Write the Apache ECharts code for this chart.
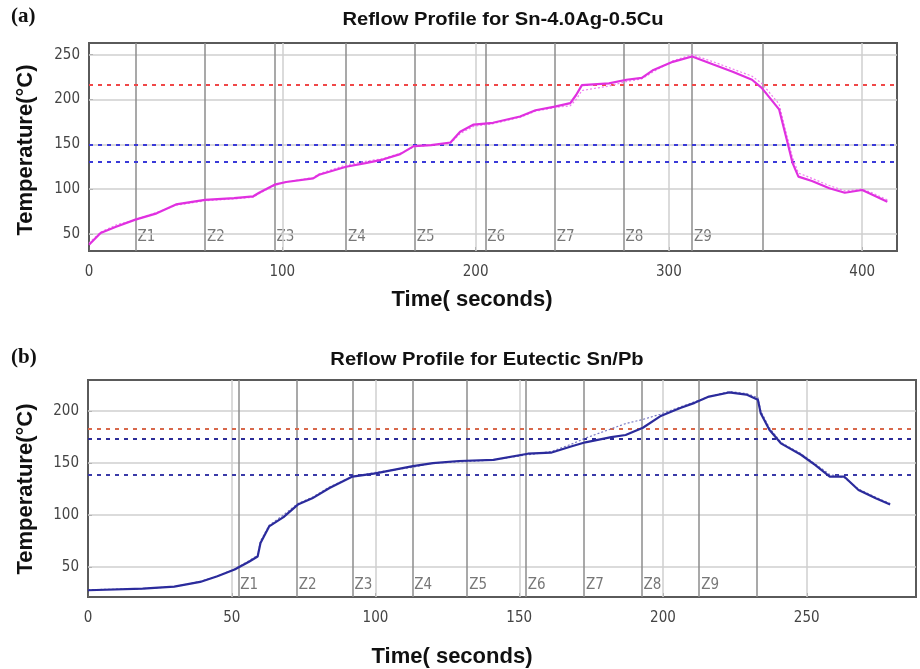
<!DOCTYPE html>
<html><head><meta charset="utf-8">
<script src="https://cdn.jsdelivr.net/npm/echarts@6/dist/echarts.min.js"></script>
<style>html,body{margin:0;padding:0;background:#fff}#c{width:920px;height:669px}</style>
</head><body><div id="c"></div>
<script>
// ---------- Panel (a): Sn-4.0Ag-0.5Cu ----------
const timeA  = [0,6,14,24,35,45,60,75,85,88,96,102,116,119,133,143,152,161,168,177,187,192,199,209,223,231,241,249,252,255,269,278,286,292,302,312,323,333,343,348,357,361,364,367,374,383,391,400,405,413];
const tempA1 = [38,51,58,66,73,83,88,90,92,96,105,108,112,116,125,129,133,139,148,149,152,164,172,174,181,188,192,196,205,216,218,222,224,233,242,248,239,231,222,213,189,155,129,114,109,101,96,99,94,86];
const tempA2 = [40,52,60,66,74,82,87,89,91,95,104,108,113,117,127,131,134,140,147,149,151,162,170,173,180,187,191,193,200,210,215,220,223,231,243,250,242,234,226,218,195,160,135,118,112,104,98,100,96,88];
const zonesA = [24,60,96,133,168.5,205,241,276.5,312,348.5];
const limitsA = [216,150,130];
const yTicksA = [50,100,150,200,250];
const xGridA = [100,200,300,400];

// ---------- Panel (b): Eutectic Sn/Pb ----------
const timeB  = [0,19,30,39,45,51,56,59,60,63,68,73,78,84,92,100,113,120,129,141,153,161,168,173,182,187,193,199,206,211,216,223,229,233,234,237,241,248,253,258,263,268,274,279];
const tempB1 = [27.5,29,31,35.5,41,47.5,55,60,73,89,98,110,116,126,137,140,147,150,152,153,159,160,166,170,175,177,184,195,203,208,214,218,216,211,198,182,169,158,148,137,137,124,116,110];
const tempB2 = [28,29,31,36,41,48,56,61,75,90,100,111,117,127,137,141,146,150,151,153,158,161,168,174,183,188,192,197,204,209,214,219,217,213,200,184,170,159,149,139,136,125,117,111];
const zonesB = [52.3,72.6,92,112.8,131.9,152.3,172.5,192.5,212.6,232.7];
const limitsB = [183,173,139];
const yTicksB = [50,100,150,200];
const xGridB = [50,100,150,200,250];

const zoneNames = ['Z1','Z2','Z3','Z4','Z5','Z6','Z7','Z8','Z9'];

const tickFont = "'DejaVu Sans Condensed','Liberation Sans Narrow',sans-serif";
const boldFont = "'Liberation Sans',Arial,sans-serif";

function pairs(t, v){ return t.map((x,i)=>[x, v[i]]); }

function hLines(vals, color, type, width){
  return vals.map(v=>({yAxis:v, lineStyle:{color:color, type:type, width:width}}));
}
function vLines(vals, color, width){
  return vals.map(v=>({xAxis:v, lineStyle:{color:color, type:'solid', width:width}}));
}

function panelSeries(idx, time, t1, t2, zones, limits, limitColors, yTicks, xGrid, zoneY, solidColor, dotColor){
  const base = {type:'line', xAxisIndex:idx, yAxisIndex:idx, data:[], silent:true, symbol:'none'};
  return [
    Object.assign({}, base, {z:1, markLine:{silent:true, symbol:'none', label:{show:false}, animation:false,
      data: hLines(yTicks,'#cfcfcf','solid',1.5).concat(vLines(xGrid,'#cfcfcf',1.5))}}),
    Object.assign({}, base, {z:2, markLine:{silent:true, symbol:'none', label:{show:false}, animation:false,
      data: vLines(zones,'#8c8c8c',1.5)}}),
    Object.assign({}, base, {z:3, markLine:{silent:true, symbol:'none', label:{show:false}, animation:false,
      data: limits.map((v,i)=>({yAxis:v, lineStyle:{color:limitColors[i], type:[4,5], width:2}}))}}),
    {type:'scatter', xAxisIndex:idx, yAxisIndex:idx, z:4, silent:true, symbolSize:0,
      data: zoneNames.map((n,i)=>({value:[zones[i], zoneY], name:n})),
      label:{show:true, position:'right', distance:1, formatter:'{b}', color:'#555', fontFamily:tickFont, fontSize:15,
        backgroundColor:'#fff', padding:[0,2,0,1]}},
    {type:'line', xAxisIndex:idx, yAxisIndex:idx, z:5, data:pairs(time,t2), symbol:'none', silent:true,
      lineStyle:{color:dotColor, width:1.2, type:[2,2]}},
    {type:'line', xAxisIndex:idx, yAxisIndex:idx, z:6, data:pairs(time,t1), symbol:'none', silent:true,
      lineStyle:{color:solidColor, width:2.2}}
  ];
}

function xAx(idx, max, interval){
  return {type:'value', gridIndex:idx, min:0, max:max, interval:interval,
    axisLine:{show:false}, splitLine:{show:false},
    axisTick:{show:true, inside:true, length:4, lineStyle:{color:'#666'}},
    axisLabel:{color:'#444', fontFamily:tickFont, fontSize:15, margin:14,
      showMaxLabel:false}};
}
function yAx(idx, min, max, ticks){
  return {type:'value', gridIndex:idx, min:min, max:max,
    axisLine:{show:false}, splitLine:{show:false},
    axisTick:{show:true, inside:true, length:4, customValues:ticks, lineStyle:{color:'#666'}},
    axisLabel:{color:'#444', fontFamily:tickFont, fontSize:15, margin:9, customValues:ticks}};
}

const chart = echarts.init(document.getElementById('c'), null, {renderer:'canvas'});
chart.setOption({
  animation:false,
  backgroundColor:'#fff',
  grid:[
    {left:89, top:43, width:808, height:208, show:true, borderColor:'#5a5a5a', borderWidth:2, backgroundColor:'#fff'},
    {left:88, top:380, width:828, height:217, show:true, borderColor:'#5a5a5a', borderWidth:2, backgroundColor:'#fff'}
  ],
  xAxis:[xAx(0,418,100), xAx(1,288,50)],
  yAxis:[yAx(0,31,263,yTicksA), yAx(1,21,230,yTicksB)],
  graphic:[
    {type:'text', left:11, top:6, style:{text:'(a)', font:"bold 21px 'Liberation Serif',serif", fill:'#111'}},
    {type:'text', x:503, y:20, scaleX:1.06, style:{text:'Reflow Profile for Sn-4.0Ag-0.5Cu', font:"bold 19px "+boldFont, fill:'#111', textAlign:'center', textVerticalAlign:'middle'}},
    {type:'text', x:26, y:150, rotation:Math.PI/2, style:{text:'Temperature(°C)', font:"bold 22px "+boldFont, fill:'#111', textAlign:'center', textVerticalAlign:'middle'}},
    {type:'text', x:472, y:300, style:{text:'Time( seconds)', font:"bold 22px "+boldFont, fill:'#111', textAlign:'center', textVerticalAlign:'middle'}},
    {type:'text', left:11, top:347, style:{text:'(b)', font:"bold 21px 'Liberation Serif',serif", fill:'#111'}},
    {type:'text', x:487, y:360, scaleX:1.06, style:{text:'Reflow Profile for Eutectic Sn/Pb', font:"bold 19px "+boldFont, fill:'#111', textAlign:'center', textVerticalAlign:'middle'}},
    {type:'text', x:26, y:489, rotation:Math.PI/2, style:{text:'Temperature(°C)', font:"bold 22px "+boldFont, fill:'#111', textAlign:'center', textVerticalAlign:'middle'}},
    {type:'text', x:452, y:657, style:{text:'Time( seconds)', font:"bold 22px "+boldFont, fill:'#111', textAlign:'center', textVerticalAlign:'middle'}}
  ],
  series: panelSeries(0, timeA, tempA1, tempA2, zonesA, limitsA, ['#f04848','#3a3ad8','#3a3ad8'], yTicksA, xGridA, 46, '#e030e0', '#f07cf0')
    .concat(panelSeries(1, timeB, tempB1, tempB2, zonesB, limitsB, ['#d8684a','#2c2c98','#3a3aa8'], yTicksB, xGridB, 32, '#2b2b9c', '#7a7ac4'))
});
</script>
</body></html>
